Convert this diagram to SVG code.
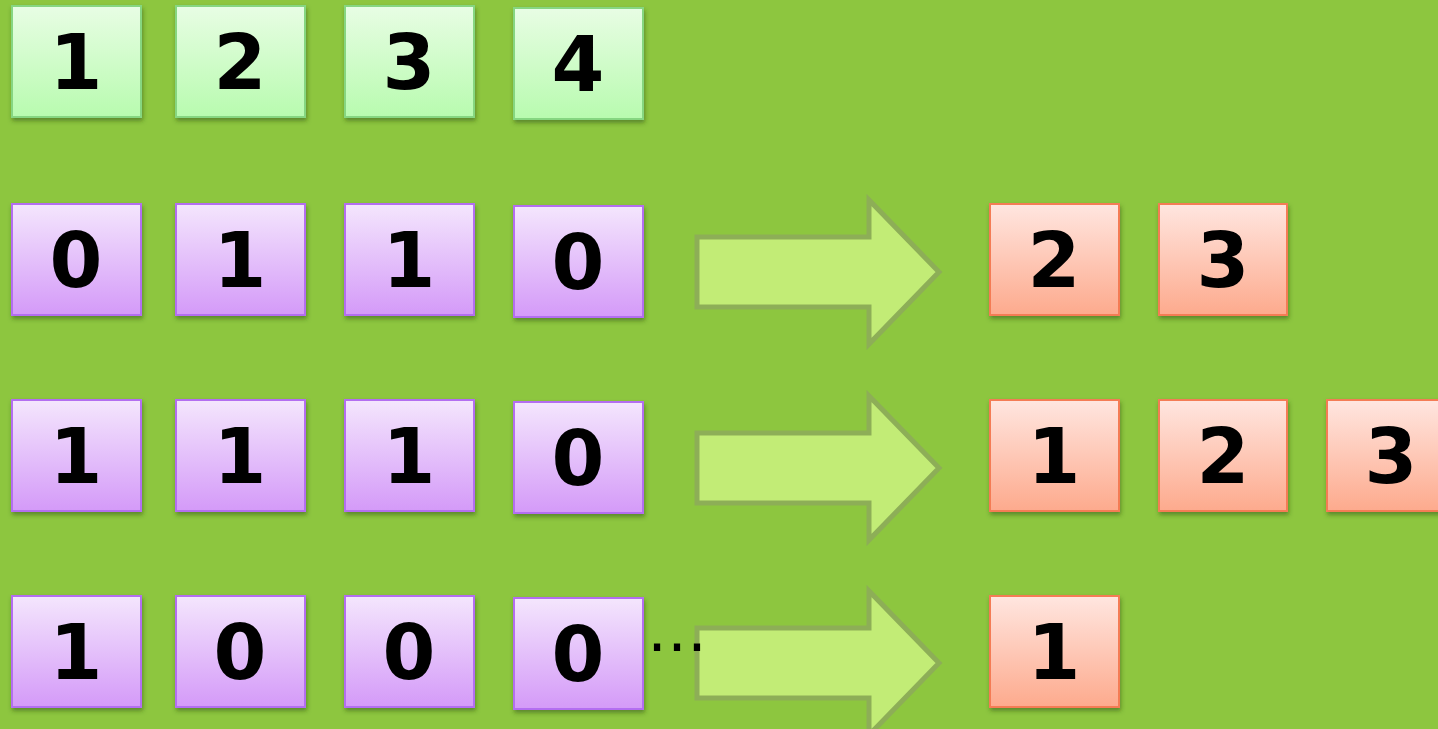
<svg xmlns="http://www.w3.org/2000/svg" width="1438" height="729" viewBox="0 0 1438 729">
<defs>
<linearGradient id="gG" x1="0" y1="0" x2="0" y2="1"><stop offset="0" stop-color="#e8fde4"/><stop offset="1" stop-color="#b8fbaf"/></linearGradient>
<linearGradient id="gP" x1="0" y1="0" x2="0" y2="1"><stop offset="0" stop-color="#f4e6fd"/><stop offset="1" stop-color="#d49af8"/></linearGradient>
<linearGradient id="gO" x1="0" y1="0" x2="0" y2="1"><stop offset="0" stop-color="#ffe6e0"/><stop offset="1" stop-color="#fdaa8d"/></linearGradient>
<filter id="sh" x="-10%" y="-10%" width="130%" height="130%"><feDropShadow dx="1" dy="3" stdDeviation="2" flood-color="#2b4a10" flood-opacity="0.5"/></filter>
<polygon id="arrow" points="0,-35 172,-35 172,-72 242,0 172,72 172,35 0,35"/>
</defs>
<style>
.g{fill:url(#gG);stroke:#86d681;stroke-width:2}
.p{fill:url(#gP);stroke:#b36ef0;stroke-width:2}
.o{fill:url(#gO);stroke:#f47b55;stroke-width:2}
rect{filter:url(#sh)}
text{font-family:"DejaVu Sans","Liberation Sans",sans-serif;font-weight:bold;font-size:76px;fill:#000;text-anchor:middle}
.arr use{fill:#c2ec76;stroke:#8dae57;stroke-width:5}
.dots{font-family:"DejaVu Sans",sans-serif;font-weight:normal;font-size:60px;text-anchor:start}
</style>
<rect width="1438" height="729" fill="#8dc63f" style="filter:none"/>
<g id="connectors" class="arr">
<use href="#arrow" x="697" y="272"/>
<use href="#arrow" x="697" y="468"/>
<use href="#arrow" x="697" y="663"/>
</g>
<g id="h1"><rect class="g" x="12" y="6" width="129" height="111"/><text x="76" y="89">1</text></g>
<g id="h2"><rect class="g" x="176" y="6" width="129" height="111"/><text x="240" y="89">2</text></g>
<g id="h3"><rect class="g" x="345" y="6" width="129" height="111"/><text x="409" y="89">3</text></g>
<g id="h4"><rect class="g" x="514" y="8" width="129" height="111"/><text x="578" y="91">4</text></g>

<g id="a1"><rect class="p" x="12" y="204" width="129" height="111"/><text x="76" y="287">0</text></g>
<g id="a2"><rect class="p" x="176" y="204" width="129" height="111"/><text x="240" y="287">1</text></g>
<g id="a3"><rect class="p" x="345" y="204" width="129" height="111"/><text x="409" y="287">1</text></g>
<g id="a4"><rect class="p" x="514" y="206" width="129" height="111"/><text x="578" y="289">0</text></g>

<g id="b1"><rect class="p" x="12" y="400" width="129" height="111"/><text x="76" y="483">1</text></g>
<g id="b2"><rect class="p" x="176" y="400" width="129" height="111"/><text x="240" y="483">1</text></g>
<g id="b3"><rect class="p" x="345" y="400" width="129" height="111"/><text x="409" y="483">1</text></g>
<g id="b4"><rect class="p" x="514" y="402" width="129" height="111"/><text x="578" y="485">0</text></g>

<g id="c1"><rect class="p" x="12" y="596" width="129" height="111"/><text x="76" y="679">1</text></g>
<g id="c2"><rect class="p" x="176" y="596" width="129" height="111"/><text x="240" y="679">0</text></g>
<g id="c3"><rect class="p" x="345" y="596" width="129" height="111"/><text x="409" y="679">0</text></g>
<g id="c4"><rect class="p" x="514" y="598" width="129" height="111"/><text x="578" y="681">0</text></g>
<g id="dots"><text class="dots" x="647" y="651">…</text></g>

<g id="r1a"><rect class="o" x="990" y="204" width="129" height="111"/><text x="1054" y="287">2</text></g>
<g id="r1b"><rect class="o" x="1159" y="204" width="128" height="111"/><text x="1223" y="287">3</text></g>

<g id="r2a"><rect class="o" x="990" y="400" width="129" height="111"/><text x="1054" y="483">1</text></g>
<g id="r2b"><rect class="o" x="1159" y="400" width="128" height="111"/><text x="1223" y="483">2</text></g>
<g id="r2c"><rect class="o" x="1327" y="400" width="129" height="111"/><text x="1391" y="483">3</text></g>

<g id="r3a"><rect class="o" x="990" y="596" width="129" height="111"/><text x="1054" y="679">1</text></g>
</svg>
